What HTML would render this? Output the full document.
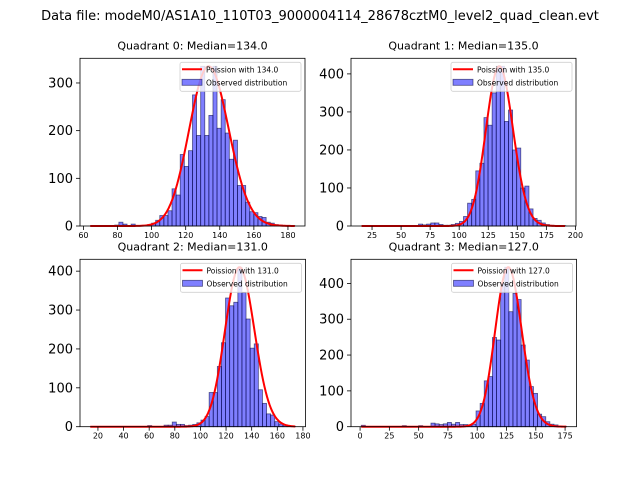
<!DOCTYPE html>
<html><head><meta charset="utf-8"><style>
html,body{margin:0;padding:0;background:#fff;}
svg{display:block;font-family:"DejaVu Sans","Liberation Sans",sans-serif;}
</style></head><body>
<svg id="fig" width="640" height="480" viewBox="0 0 640 480">
<text x="320" y="20" font-size="13" text-anchor="middle">Data file: modeM0/AS1A10_110T03_9000004114_28678cztM0_level2_quad_clean.evt</text>
</svg>
<script>
// ---- data ----
const titles = ["Quadrant 0: Median=134.0","Quadrant 1: Median=135.0","Quadrant 2: Median=131.0","Quadrant 3: Median=127.0"];
const medians = [134, 135, 131, 127];
const dataMin = [64, 15.7, 14, 1];
const dataMax = [184, 191.7, 174, 176];
const counts0 = [0,0,0,0,0,0,2,8,4,1,4,1,1,1,3,6,12,22,22,32,78,65,150,125,158,275,190,335,190,232,335,205,265,195,140,180,85,85,50,30,28,20,18,8,6,3,2,1,1,1];
const counts1 = [0,0,0,0,0,0,0,0,0,0,0,0,0,0,5,3,5,8,8,4,2,2,4,7,12,25,60,70,145,165,285,265,350,420,420,275,305,200,205,100,105,45,20,15,8,4,2,1,1,1];
const counts2 = [0,0,0,0,0,0,0,0,0,0,0,0,0,0,3,0,0,0,4,4,12,6,6,3,4,6,10,17,26,88,88,155,216,331,311,320,410,345,277,202,213,95,60,33,30,13,7,4,2,1];
const counts3 = [4,0,0,0,0,0,0,0,0,0,3,0,0,0,3,0,0,10,8,6,8,12,7,12,6,6,5,7,44,65,128,140,249,242,400,445,321,372,355,228,186,112,93,35,28,14,7,5,2,1];
const xTicks0 = [60,80,100,120,140,160,180];
const xTicks1 = [25,50,75,100,125,150,175,200];
const xTicks2 = [20,40,60,80,100,120,140,160,180];
const xTicks3 = [0,25,50,75,100,125,150,175];
const yTicks0 = [0,100,200,300];
const yTicks1 = [0,100,200,300,400];
const yTicks2 = [0,100,200,300,400];
const yTicks3 = [0,100,200,300,400];

const NS = "http://www.w3.org/2000/svg";
const svg = document.getElementById("fig");
function mk(tag, attrs, parent){
  const e = document.createElementNS(NS, tag);
  for (const k in attrs) e.setAttribute(k, attrs[k]);
  (parent||svg).appendChild(e);
  return e;
}
function lgamma(z){
  if (z < 7){ let p=1; while(z<7){p*=z;z+=1;} return lgamma(z)-Math.log(p); }
  return (z-0.5)*Math.log(z)-z+0.5*Math.log(2*Math.PI)+1/(12*z)-1/(360*z*z*z)+1/(1260*Math.pow(z,5));
}
function pois(k, lam){ return Math.exp(k*Math.log(lam)-lam-lgamma(k+1)); }

const boxes = [[80,58.3,305,226],[351,58.3,576,226],[80,259.3,305.5,426.7],[351,259.3,576.5,426.7]];
const allCounts = [counts0,counts1,counts2,counts3];
const allX = [xTicks0,xTicks1,xTicks2,xTicks3];
const allY = [yTicks0,yTicks1,yTicks2,yTicks3];

for (let q=0;q<4;q++){
  const [L,T,R,B] = boxes[q];
  const counts = allCounts[q];
  const lo = dataMin[q], hi = dataMax[q], D = hi-lo;
  const x0 = lo-0.05*D, x1 = hi+0.05*D;
  const lam = medians[q];
  const cmax = Math.max(...counts);
  const ymax = cmax*1.05;
  const sx = v => L+(v-x0)/(x1-x0)*(R-L);
  const sy = v => B-v/ymax*(B-T);
  const g = mk("g",{});
  
  
  const t = mk("text",{x:(L+R)/2,y:T-9,"font-size":"11","text-anchor":"middle"},g);
  t.textContent = titles[q];
  
  
  const bw = D/counts.length;
  const bg = mk("g",{},g);
  
  
  counts.forEach((c,i)=>{
    if (c<=0) return;
    const a = lo+i*bw;
    const r = mk("rect",{x:sx(a),y:sy(c),width:sx(a+bw)-sx(a),height:B-sy(c),fill:"rgba(0,0,255,0.5)",stroke:"rgba(0,0,60,0.6)","stroke-width":"0.8"},bg);
    
    
  });
  const pm = pois(Math.floor(lam), lam);
  let d = "";
  for (let k=Math.ceil(lo); k<=Math.floor(hi); k++){
    const v = pois(k,lam)/pm*cmax;
    d += (d?"L":"M")+sx(k).toFixed(2)+","+sy(v).toFixed(2);
  }
  const cp = mk("path",{d:d,fill:"none",stroke:"#ff0000","stroke-width":"2","stroke-linejoin":"round"},g);
  
  
  const fr = mk("rect",{x:L,y:T,width:R-L,height:B-T,fill:"none",stroke:"#000","stroke-width":"0.8"},g);
  
  
  allX[q].forEach(v=>{
    const x = sx(v);
    mk("line",{x1:x,x2:x,y1:B,y2:B+4,stroke:"#000","stroke-width":"0.8"},g);
    const tl = mk("text",{x:x,y:B+12,"font-size":"8","text-anchor":"middle"},g);
    tl.textContent = v;
    
    
  });
  allY[q].forEach(v=>{
    const y = sy(v);
    mk("line",{x1:L-4,x2:L,y1:y,y2:y,stroke:"#000","stroke-width":"0.8"},g);
    const tl = mk("text",{x:L-7,y:y+4.5,"font-size":"13","text-anchor":"end"},g);
    tl.textContent = v;
    
    
  });
  const lg = mk("g",{},g);
  
  
  const lx = R-125, ly = T+4;
  mk("rect",{x:lx,y:ly,width:121,height:29,rx:2,fill:"rgba(255,255,255,0.8)",stroke:"#d0d0d0","stroke-width":"0.8"},lg);
  mk("line",{x1:lx+2,x2:lx+22,y1:ly+7,y2:ly+7,stroke:"#ff0000","stroke-width":"2"},lg);
  const l1 = mk("text",{x:lx+26,y:ly+10,"font-size":"7.5"},lg);
  l1.textContent = "Poission with "+lam.toFixed(1);
  
  
  mk("rect",{x:lx+2,y:ly+17,width:20,height:6,fill:"rgba(0,0,255,0.5)",stroke:"rgba(0,0,60,0.6)","stroke-width":"0.8"},lg);
  const l2 = mk("text",{x:lx+26,y:ly+23,"font-size":"7.5"},lg);
  l2.textContent = "Observed distribution";
  
  
}
</script>
</body></html>
